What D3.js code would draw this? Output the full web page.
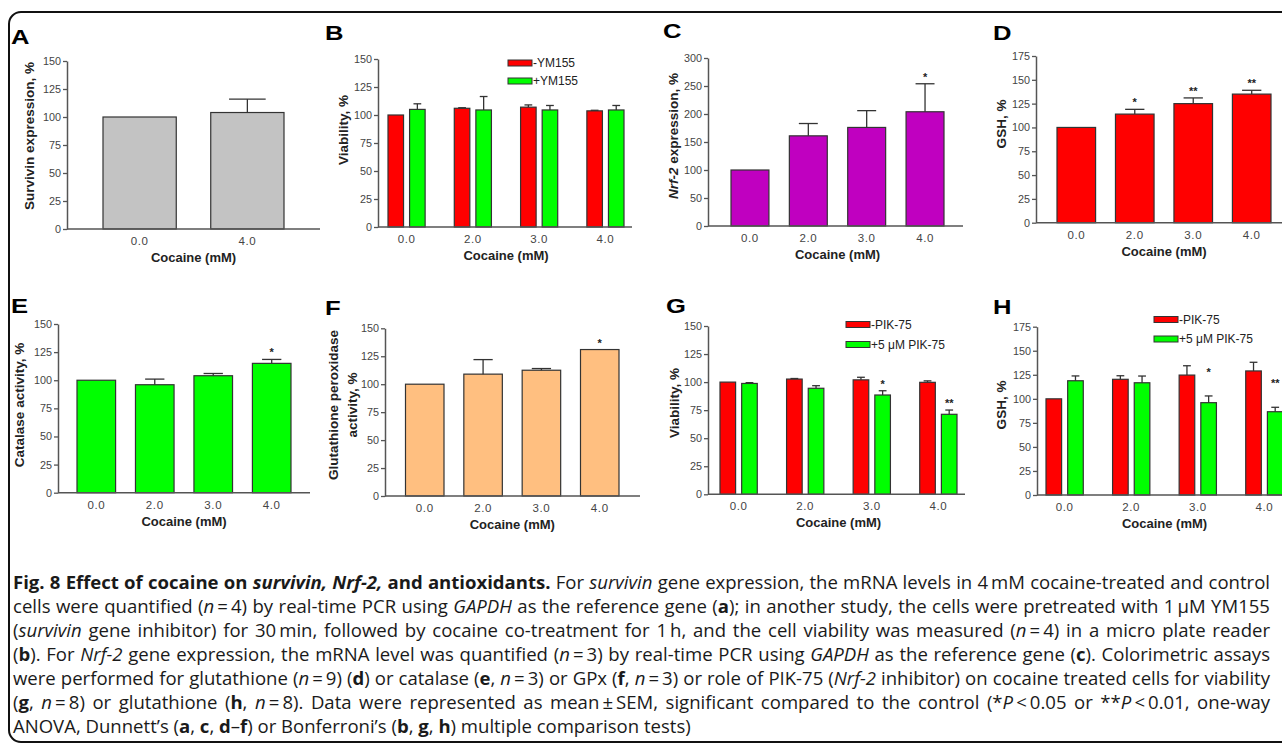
<!DOCTYPE html>
<html>
<head>
<meta charset="utf-8">
<script src="https://cdn.jsdelivr.net/npm/d3@7"></script>
<style>
  body { margin: 0; background: #fff; }
  svg { display: block; }
  .tick text { font-family: "Liberation Sans", Arial, sans-serif; }
</style>
</head>
<body>
<script>
// values
const cocaineTwo = ["0.0", "4.0"];
const cocaineFour = ["0.0", "2.0", "3.0", "4.0"];

const survivinMean = [100, 104];
const survivinSem = [0, 12];

const ymLegend = ["-YM155", "+YM155"];
const viabNoYM = [100, 106, 107, 103.7];
const viabNoYMSem = [0, 0.5, 2, 0.5];
const viabYM = [105, 104.5, 104.5, 104.5];
const viabYMSem = [5, 12, 4, 4];

const nrf2Mean = [100, 161, 176, 204];
const nrf2Sem = [0, 22, 30, 50];
const nrf2Stars = ["", "", "", "*"];

const gshMean = [100, 114, 125, 135];
const gshSem = [0, 5, 6, 4];
const gshStars = ["", "*", "**", "**"];

const catalaseMean = [100, 96, 104, 115];
const catalaseSem = [0, 5, 2, 3.5];
const catalaseStars = ["", "", "", "*"];

const gpxMean = [100, 109, 112.5, 131];
const gpxSem = [0, 13, 1.5, 0];
const gpxStars = ["", "", "", "*"];

const pikLegend = ["-PIK-75", "+5 \u03bcM PIK-75"];
const viabNoPIK = [100, 102.7, 102, 99.8];
const viabNoPIKSem = [0, 0.5, 2.3, 1.3];
const viabPIK = [98.8, 94.5, 88.5, 71.3];
const viabPIKSem = [0.7, 2.3, 3.8, 3.8];
const viabPIKStars = ["", "", "*", "**"];

const gshNoPIK = [100, 120.3, 124.7, 129];
const gshNoPIKSem = [0, 3.7, 9.7, 9];
const gshPIK = [118.8, 116.7, 96, 86.6];
const gshPIKSem = [5, 7, 7, 4.6];
const gshPIKStars = ["", "", "*", "**"];

const RED = "#ff0000", GREEN = "#00ff00";

const W = 1282, H = 744;
const svg = d3.select("body").append("svg").attr("width", W).attr("height", H);

// outer frame
svg.append("rect")
  .attr("x", 9).attr("y", 12).attr("width", 1320).attr("height", 730)
  .attr("rx", 12)
  .attr("fill", "none").attr("stroke", "#111").attr("stroke-width", 2);

const panels = [
  { label: "A", lx: 11, ly: 44, cats: cocaineTwo, yMax: 150, yStep: 25, y0: 229, yTop: 61,
    x0: 67, x1: 320, band: [103, 284], pad: 0.32, subPad: 0,
    series: [{ v: survivinMean, e: survivinSem, c: "#c3c3c3" }],
    title: ["Survivin expression, %"], tx: [29], ty: 136 },
  { label: "B", lx: 325, ly: 40, cats: cocaineFour, yMax: 150, yStep: 25, y0: 227, yTop: 59,
    x0: 378, x1: 632, band: [388, 624], pad: 0.44, subPad: 0.28,
    series: [{ v: viabNoYM, e: viabNoYMSem, c: RED }, { v: viabYM, e: viabYMSem, c: GREEN }],
    legend: ymLegend, legX: 508, legY: 60, legGap: 18,
    title: ["Viability, %"], tx: [343], ty: 130 },
  { label: "C", lx: 663, ly: 38, cats: cocaineFour, yMax: 300, yStep: 50, y0: 226, yTop: 58,
    x0: 708, x1: 963, band: [731, 944], pad: 0.35, subPad: 0,
    series: [{ v: nrf2Mean, e: nrf2Sem, c: "#c000c0", s: nrf2Stars }],
    title: ["expression, %"], italicPrefix: "Nrf-2 ", tx: [673], ty: 136 },
  { label: "D", lx: 993, ly: 40, cats: cocaineFour, yMax: 175, yStep: 25, y0: 222.7, yTop: 56,
    x0: 1036, x1: 1300, band: [1057, 1271], pad: 0.34, subPad: 0,
    series: [{ v: gshMean, e: gshSem, c: RED, s: gshStars }],
    title: ["GSH, %"], tx: [1001], ty: 124 },
  { label: "E", lx: 11, ly: 313, cats: cocaineFour, yMax: 150, yStep: 25, y0: 492.7, yTop: 324,
    x0: 58, x1: 310, band: [77, 291], pad: 0.34, subPad: 0,
    series: [{ v: catalaseMean, e: catalaseSem, c: GREEN, s: catalaseStars }],
    title: ["Catalase activity, %"], tx: [19], ty: 405 },
  { label: "F", lx: 325, ly: 315, cats: cocaineFour, yMax: 150, yStep: 25, y0: 496, yTop: 328.3,
    x0: 385, x1: 640, band: [405.5, 619], pad: 0.34, subPad: 0,
    series: [{ v: gpxMean, e: gpxSem, c: "#ffbf80", s: gpxStars }],
    title: ["Glutathione peroxidase", "activity, %"], tx: [333, 352], ty: 405 },
  { label: "G", lx: 666, ly: 313, cats: cocaineFour, yMax: 150, yStep: 25, y0: 494.3, yTop: 326,
    x0: 708, x1: 965, band: [720, 957], pad: 0.44, subPad: 0.28,
    series: [{ v: viabNoPIK, e: viabNoPIKSem, c: RED }, { v: viabPIK, e: viabPIKSem, c: GREEN, s: viabPIKStars }],
    legend: pikLegend, legX: 846, legY: 321.5, legGap: 20,
    title: ["Viability, %"], tx: [674], ty: 403 },
  { label: "H", lx: 993, ly: 314, cats: cocaineFour, yMax: 175, yStep: 25, y0: 495, yTop: 326.7,
    x0: 1037, x1: 1300, band: [1046, 1283], pad: 0.44, subPad: 0.28, starGap: 20,
    series: [{ v: gshNoPIK, e: gshNoPIKSem, c: RED }, { v: gshPIK, e: gshPIKSem, c: GREEN, s: gshPIKStars }],
    legend: pikLegend, legX: 1154, legY: 316.5, legGap: 19.5,
    title: ["GSH, %"], tx: [1001], ty: 405 }
];

const chartFont = "'Liberation Sans', Arial, sans-serif";

function drawPanel(p) {
  const g = svg.append("g");
  const y = d3.scaleLinear().domain([0, p.yMax]).range([p.y0, p.yTop]);
  const x = d3.scaleBand().domain(p.cats).range(p.band).paddingInner(p.pad).paddingOuter(0);
  const sub = d3.scaleBand().domain(d3.range(p.series.length)).range([0, x.bandwidth()])
    .paddingInner(p.subPad).paddingOuter(0);
  const bw = sub.bandwidth();

  p.series.forEach((s, si) => {
    const rows = s.v.map((v, i) => ({ cat: p.cats[i], v: v, e: s.e[i], star: s.s ? s.s[i] : "" }));
    const cx = d => x(d.cat) + sub(si) + bw / 2;

    g.append("g").selectAll("rect").data(rows).join("rect")
      .attr("x", d => x(d.cat) + sub(si))
      .attr("y", d => y(d.v))
      .attr("width", bw)
      .attr("height", d => y(0) - y(d.v))
      .attr("fill", s.c)
      .attr("stroke", "#333").attr("stroke-width", 1.2);

    const err = g.append("g").attr("stroke", "#333").attr("stroke-width", 1.3)
      .selectAll("g").data(rows.filter(d => d.e > 0)).join("g");
    err.append("line")
      .attr("x1", cx).attr("x2", cx)
      .attr("y1", d => y(d.v)).attr("y2", d => y(d.v + d.e));
    err.append("line")
      .attr("x1", d => cx(d) - bw / 4).attr("x2", d => cx(d) + bw / 4)
      .attr("y1", d => y(d.v + d.e)).attr("y2", d => y(d.v + d.e));

    g.append("g").selectAll("text").data(rows.filter(d => d.star)).join("text")
      .attr("x", cx)
      .attr("y", d => y(d.v + d.e) - (p.starGap || 3))
      .attr("text-anchor", "middle")
      .attr("font-family", chartFont).attr("font-weight", "bold").attr("font-size", 11)
      .attr("fill", "#222")
      .text(d => d.star);
  });

  // y axis
  const ya = g.append("g").attr("transform", `translate(${p.x0},0)`)
    .call(d3.axisLeft(y).tickValues(d3.range(0, p.yMax + 1, p.yStep)).tickSize(4).tickSizeOuter(0).tickPadding(2));
  ya.select(".domain").attr("stroke", "#555").attr("stroke-width", 1.5);
  ya.selectAll(".tick line").attr("stroke", "#555").attr("stroke-width", 1.3);
  ya.selectAll(".tick text").attr("font-size", 10.8).attr("fill", "#444");

  // x axis
  const xa = g.append("g").attr("transform", `translate(0,${p.y0})`)
    .call(d3.axisBottom(x).tickSize(0).tickPadding(8));
  xa.select(".domain").remove();
  xa.selectAll(".tick text").attr("font-size", 11.5).attr("fill", "#444").attr("letter-spacing", 0.6);
  g.append("line")
    .attr("x1", p.x0).attr("x2", p.x1).attr("y1", p.y0).attr("y2", p.y0)
    .attr("stroke", "#555").attr("stroke-width", 1.5);

  g.append("text")
    .attr("x", (p.band[0] + p.band[1]) / 2).attr("y", p.y0 + 33)
    .attr("text-anchor", "middle")
    .attr("font-family", chartFont).attr("font-weight", "bold").attr("font-size", 13)
    .attr("fill", "#222")
    .text("Cocaine (mM)");

  // y title (rotated)
  p.title.forEach((t, k) => {
    const tt = g.append("text")
      .attr("transform", `translate(${p.tx[k]},${p.ty}) rotate(-90)`)
      .attr("text-anchor", "middle").attr("dominant-baseline", "central")
      .attr("font-family", chartFont).attr("font-weight", "bold").attr("font-size", 13.5)
      .attr("fill", "#222");
    if (p.italicPrefix && k === 0) tt.append("tspan").attr("font-style", "italic").text(p.italicPrefix);
    tt.append("tspan").text(t);
  });

  // legend
  if (p.legend) {
    const lg = g.append("g").selectAll("g").data(p.legend).join("g")
      .attr("transform", (d, i) => `translate(${p.legX},${p.legY + i * p.legGap})`);
    lg.append("rect").attr("width", 24).attr("height", 6)
      .attr("fill", (d, i) => p.series[i].c).attr("stroke", "#333").attr("stroke-width", 1);
    lg.append("text").attr("x", 25).attr("y", 3).attr("dominant-baseline", "central")
      .attr("font-family", chartFont).attr("font-size", 12).attr("fill", "#222")
      .text(d => d);
  }

  // panel letter
  g.append("text")
    .attr("transform", `translate(${p.lx},${p.ly}) scale(1.22,1)`)
    .attr("font-family", chartFont).attr("font-weight", "bold").attr("font-size", 21)
    .attr("fill", "#000")
    .text(p.label);
}

panels.forEach(drawPanel);

// caption
const captionLines = [
  [["Fig. 8 Effect of cocaine on ", "b"], ["survivin, Nrf-2,", "bi"], [" and antioxidants.", "b"], [" For ", ""], ["survivin", "i"], [" gene expression, the mRNA levels in 4\u2009mM cocaine-treated and control", ""]],
  [["cells were quantified (", ""], ["n", "i"], ["\u2009=\u20094) by real-time PCR using ", ""], ["GAPDH", "i"], [" as the reference gene (", ""], ["a", "b"], ["); in another study, the cells were pretreated with 1\u2009\u03bcM YM155", ""]],
  [["(", ""], ["survivin", "i"], [" gene inhibitor) for 30\u2009min, followed by cocaine co-treatment for 1\u2009h, and the cell viability was measured (", ""], ["n", "i"], ["\u2009=\u20094) in a micro plate reader", ""]],
  [["(", ""], ["b", "b"], ["). For ", ""], ["Nrf-2", "i"], [" gene expression, the mRNA level was quantified (", ""], ["n", "i"], ["\u2009=\u20093) by real-time PCR using ", ""], ["GAPDH", "i"], [" as the reference gene (", ""], ["c", "b"], ["). Colorimetric assays", ""]],
  [["were performed for glutathione (", ""], ["n", "i"], ["\u2009=\u20099) (", ""], ["d", "b"], [") or catalase (", ""], ["e", "b"], [", ", ""], ["n", "i"], ["\u2009=\u20093) or GPx (", ""], ["f", "b"], [", ", ""], ["n", "i"], ["\u2009=\u20093) or role of PIK-75 (", ""], ["Nrf-2", "i"], [" inhibitor) on cocaine treated cells for viability", ""]],
  [["(", ""], ["g", "b"], [", ", ""], ["n", "i"], ["\u2009=\u20098) or glutathione (", ""], ["h", "b"], [", ", ""], ["n", "i"], ["\u2009=\u20098). Data were represented as mean\u2009\u00b1\u2009SEM, significant compared to the control (*", ""], ["P", "i"], ["\u2009<\u20090.05 or **", ""], ["P", "i"], ["\u2009<\u20090.01, one-way", ""]],
  [["ANOVA, Dunnett\u2019s (", ""], ["a", "b"], [", ", ""], ["c", "b"], [", ", ""], ["d", "b"], ["\u2013", ""], ["f", "b"], [") or Bonferroni\u2019s (", ""], ["b", "b"], [", ", ""], ["g", "b"], [", ", ""], ["h", "b"], [") multiple comparison tests)", ""]]
];

const capX = 13, capRight = 1270, capTop = 589, capStep = 24;
const cap = svg.append("g")
  .attr("font-family", "'Open Sans', 'Noto Sans', sans-serif")
  .attr("font-size", 16).attr("fill", "#1a1a1a");

const capTexts = captionLines.map((segs, li) => {
  const t = cap.append("text").attr("x", capX).attr("y", capTop + li * capStep)
    .attr("xml:space", "preserve");
  segs.forEach(([txt, st]) => {
    t.append("tspan")
      .attr("font-weight", st.includes("b") ? "bold" : null)
      .attr("font-style", st.includes("i") ? "italic" : null)
      .text(txt);
  });
  return t;
});

// pick a size that fits the widest line, then justify with word spacing
const natural = capTexts.map(t => t.node().getComputedTextLength());
const maxFull = d3.max(natural.slice(0, -1));
const fs = Math.min(16 * (capRight - capX - 6) / maxFull, 16 * 703 / natural[natural.length - 1]);
cap.attr("font-size", fs);
capTexts.forEach((t, li) => {
  if (li === capTexts.length - 1) return;
  const len = t.node().getComputedTextLength();
  const spaces = captionLines[li].map(s => s[0]).join("").split(" ").length - 1;
  t.attr("word-spacing", (capRight - capX - len) / spaces);
});
</script>
</body>
</html>
